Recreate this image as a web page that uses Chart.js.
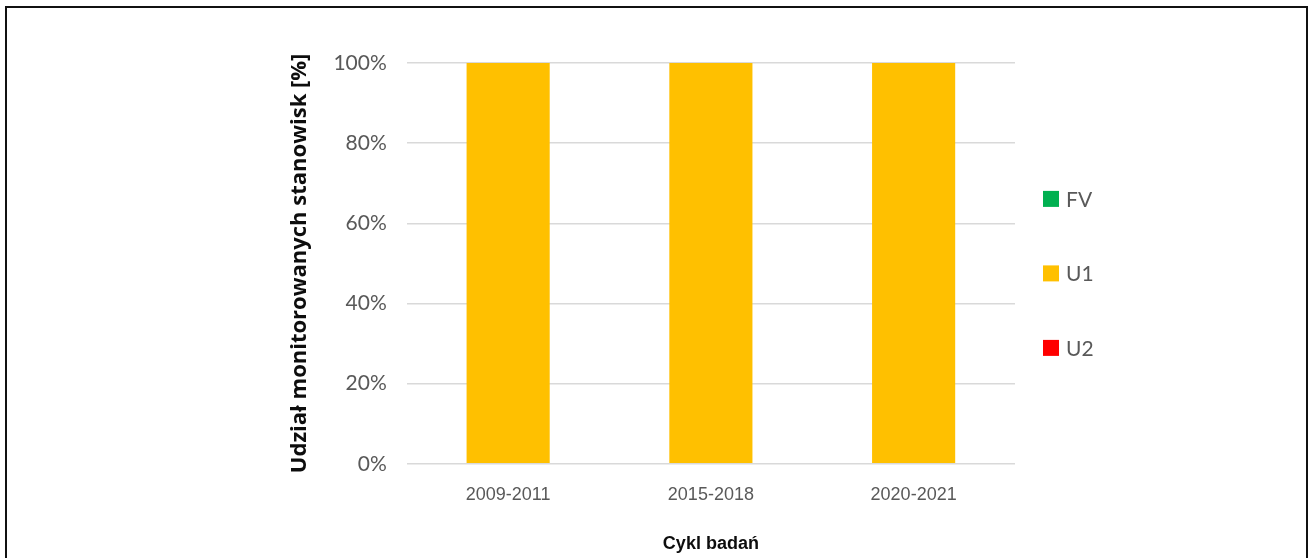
<!DOCTYPE html>
<html>
<head>
<meta charset="utf-8">
<script src="https://cdn.jsdelivr.net/npm/chart.js@4"></script>
<style>
  body { margin: 0; background: #fff; }
  #wrap { position: relative; width: 1314px; height: 558px; overflow: hidden; }
  #frame { position: absolute; left: 5px; top: 6px; width: 1303px; height: 600px; border: 2px solid #111; box-sizing: border-box; }
  canvas { position: absolute; left: 0; top: 0; }
</style>
</head>
<body>
<div id="wrap">
  <div id="frame"></div>
  <canvas id="chart" width="1314" height="558"></canvas>
</div>
<script>
// ── Data ───────────────────────────────────────────────────────
const cycles = ['2009-2011', '2015-2018', '2020-2021'];
const seriesNames = ['FV', 'U1', 'U2'];
const fvValues = [0, 0, 0];
const u1Values = [100, 100, 100];
const u2Values = [0, 0, 0];
const seriesColors = ['#00B050', '#FFC000', '#FF0000'];

const SANS = "'Liberation Sans', Arial, sans-serif";
const LATO = "Lato, 'Open Sans', sans-serif";
const OPEN = "'Open Sans', sans-serif";

// ── Side legend (drawn on the canvas, right of the plot) ───────
const sideLegend = {
  id: 'sideLegend',
  afterDraw(chart) {
    const ctx = chart.ctx;
    const area = chart.chartArea;
    const x = area.right + 28;
    const midY = (area.top + area.bottom) / 2 + 10;
    const gap = 74.5;
    ctx.save();
    ctx.font = '21px ' + LATO;
    ctx.textBaseline = 'middle';
    chart.data.datasets.forEach((ds, i) => {
      const y = midY + (i - 1) * gap;
      ctx.fillStyle = ds.backgroundColor;
      ctx.fillRect(x, y - 8, 16, 16);
      ctx.fillStyle = '#595959';
      ctx.fillText(ds.label, x + 23, y + 1);
    });
    ctx.restore();
  }
};

new Chart(document.getElementById('chart'), {
  type: 'bar',
  data: {
    labels: cycles,
    datasets: [
      { label: seriesNames[0], data: fvValues, backgroundColor: seriesColors[0] },
      { label: seriesNames[1], data: u1Values, backgroundColor: seriesColors[1] },
      { label: seriesNames[2], data: u2Values, backgroundColor: seriesColors[2] }
    ]
  },
  options: {
    responsive: false, animation: false,
    layout: { padding: { left: 287, right: 299, top: 63, bottom: 3 } },
    datasets: { bar: { categoryPercentage: 1, barPercentage: 0.41, borderWidth: 0 } },
    plugins: { legend: { display: false }, tooltip: { enabled: false } },
    scales: {
      x: {
        stacked: true,
        grid: { display: false, drawTicks: false },
        border: { display: false },
        ticks: { color: '#595959', padding: 20, font: { family: SANS, size: 18 } },
        title: { display: true, text: 'Cykl badań', color: '#0d0d0d', padding: { top: 8, bottom: 0 }, font: { family: SANS, size: 18, weight: 'bold' } }
      },
      y: {
        stacked: true, min: 0, max: 100,
        grid: { color: '#d9d9d9', lineWidth: 1.5, drawTicks: false },
        border: { display: false },
        ticks: { stepSize: 20, color: '#595959', padding: 20, font: { family: LATO, size: 21 }, callback: v => v + '%' },
        title: { display: true, text: 'Udział monitorowanych stanowisk [%]', color: '#0d0d0d', padding: { top: 0, bottom: 0 }, font: { family: OPEN, size: 22, weight: 'bold' } }
      }
    }
  },
  plugins: [sideLegend]
});
</script>
</body>
</html>
